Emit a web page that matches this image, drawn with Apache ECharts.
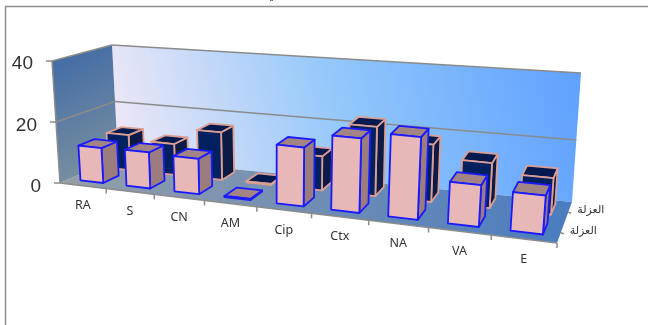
<!DOCTYPE html>
<html>
<head>
<meta charset="utf-8">
<style>html,body{margin:0;padding:0;background:#fff}#chart{width:648px;height:325px}</style>
<script src="https://cdn.jsdelivr.net/npm/echarts@6/dist/echarts.min.js"></script>
</head>
<body>
<div id="chart"></div>
<script>
// Isolate counts per antibiotic, two rows of 3D columns
const categories = ['RA', 'S', 'CN', 'AM', 'Cip', 'Ctx', 'NA', 'VA', 'E'];
const frontValues = [11.5, 11.8, 11.5, 0.4, 18.7, 23.3, 25.5, 13, 12];
const backValues = [12, 10.5, 16, 0.4, 11.3, 22.5, 18.5, 14.5, 11.7];
const rowNames = ['العزلة', 'العزلة'];
const valueTicks = [0, 20, 40];

// Corners of the 3D box on screen: [horizontal, depth, height]
const box = {
  p000: [60, 183], p100: [557, 243], p010: [118, 158], p110: [572, 202],
  p001: [52, 61], p101: [568, 104], p011: [112, 45], p111: [581, 73]
};
const perspective = 1.22;
const grid = { left: 52, top: 61, width: 500, height: 122 };

function lerp(a, b, t) { return [a[0] + (b[0] - a[0]) * t, a[1] + (b[1] - a[1]) * t]; }
function project(u, v, w) {
  const t = u / (u + perspective * (1 - u));
  const h = w * (1 - 0.08 * t * (1 - w));
  const front = lerp(lerp(box.p000, box.p100, t), lerp(box.p001, box.p101, t), h);
  const back = lerp(lerp(box.p010, box.p110, t), lerp(box.p011, box.p111, t), h);
  return lerp(front, back, v);
}
// Turn a data value into box coordinates through the cartesian axes
function boxPos(api, index, value, slotOffset) {
  const p = api.coord([index, value]);
  const slot = api.size([1, 0])[0];
  return [(p[0] + slotOffset * slot - grid.left) / grid.width, (grid.top + grid.height - p[1]) / grid.height];
}

function columnRenderer(vStart, vEnd, colors) {
  const half = 0.25;
  return function (params, api) {
    const i = api.value(0), val = api.value(1);
    const left = boxPos(api, i, val, -half), right = boxPos(api, i, val, half);
    const u0 = left[0], u1 = right[0], w = left[1];
    const base = { stroke: colors.edge, lineWidth: 1.8, lineJoin: 'round' };
    const face = (pts, fill) => ({ type: 'polygon', shape: { points: pts }, style: Object.assign({ fill }, base) });
    return {
      type: 'group',
      children: [
        face([project(u1, vStart, 0), project(u1, vEnd, 0), project(u1, vEnd, w), project(u1, vStart, w)], colors.side),
        face([project(u0, vStart, w), project(u1, vStart, w), project(u1, vEnd, w), project(u0, vEnd, w)], colors.top),
        face([project(u0, vStart, 0), project(u1, vStart, 0), project(u1, vStart, w), project(u0, vStart, w)], colors.front)
      ]
    };
  };
}

// Walls, floor, gridlines and the skewed axis furniture
function renderShell(params, api) {
  const gridLine = (a, b) => ({ type: 'line', shape: { x1: a[0], y1: a[1], x2: b[0], y2: b[1] }, style: { stroke: '#8b8b8b', lineWidth: 1.5 } });
  const children = [
    {
      type: 'polygon', shape: { points: [project(0, 1, 0), project(1, 1, 0), project(1, 1, 1), project(0, 1, 1)] },
      style: { fill: new echarts.graphic.LinearGradient(0, 1, 1, 0.25, [
        { offset: 0, color: '#f6eaf6' }, { offset: 0.5, color: '#94c8fb' }, { offset: 1, color: '#5fa1ff' }]) }
    },
    {
      type: 'polygon', shape: { points: [project(0, 0, 0), project(0, 1, 0), project(0, 1, 1), project(0, 0, 1)] },
      style: { fill: new echarts.graphic.LinearGradient(0, 0, 1, 1, [
        { offset: 0, color: '#3d69a6' }, { offset: 1, color: '#82949f' }]) }
    },
    {
      type: 'polygon', shape: { points: [project(0, 0, 0), project(1, 0, 0), project(1, 1, 0), project(0, 1, 0)] },
      style: { fill: new echarts.graphic.LinearGradient(0, 0, 1, 0.4, [
        { offset: 0, color: '#959fa8' }, { offset: 1, color: '#4a7cc0' }]) }
    }
  ];
  valueTicks.filter(t => t > 0).forEach(t => {
    const w = t / 40;
    children.push(gridLine(project(0, 0, w), project(0, 1, w)));
    children.push(gridLine(project(0, 1, w), project(1, 1, w)));
  });
  valueTicks.forEach(t => {
    const a = project(0, 0, t / 40);
    children.push(gridLine([a[0] - 6, a[1]], a));
  });
  children.push(gridLine(project(0, 0, 0), project(0, 0, 1)));
  children.push(gridLine(project(0, 0, 0), project(1, 0, 0)));
  categories.forEach((c, i) => {
    const a = project((i + 1) / categories.length, 0, 0);
    children.push(gridLine(a, [a[0], a[1] + 5]));
    const m = project((i + 0.5) / categories.length, 0, 0);
    children.push({
      type: 'text',
      style: { text: c, x: m[0], y: m[1] + 20, align: 'center', verticalAlign: 'middle',
        font: '12.5px "Noto Sans", sans-serif', fill: '#333' }
    });
  });
  rowNames.forEach((name, r) => {
    const a = project(1, 0.25 + r * 0.5, 0);
    children.push(gridLine(a, [a[0] + 3, a[1] + 1]));
    children.push({
      type: 'text',
      style: { text: name, x: a[0] + 9, y: a[1] - 2, align: 'left', verticalAlign: 'middle',
        font: '11px "DejaVu Sans", sans-serif', fill: '#333' }
    });
  });
  return { type: 'group', children };
}

const rowRows = arr => arr.map((v, i) => [i, v]);

const chart = echarts.init(document.getElementById('chart'));
chart.setOption({
  animation: false,
  backgroundColor: '#fff',
  grid: { left: grid.left, top: grid.top, width: grid.width, height: grid.height },
  xAxis: { type: 'category', data: categories, show: false },
  yAxis: {
    type: 'value', min: 0, max: 40, interval: 20,
    axisLine: { show: false }, axisTick: { show: false }, splitLine: { show: false },
    axisLabel: {
      margin: 11,
      formatter: v => '{t' + v + '|' + v + '}',
      rich: {
        t0: { padding: [7, 0, 0, 0], fontSize: 19, color: '#333', fontFamily: 'Liberation Sans' },
        t20: { padding: [7, 4, 0, 0], fontSize: 19, color: '#333', fontFamily: 'Liberation Sans' },
        t40: { padding: [5, 8, 0, 0], fontSize: 19, color: '#333', fontFamily: 'Liberation Sans' }
      }
    }
  },
  graphic: [
    { type: 'polyline', silent: true, shape: { points: [[5.5, 325], [5.5, 6.5], [648, 6.5]] }, style: { fill: null, stroke: '#8f8f8f', lineWidth: 1.5 } },
    { type: 'text', silent: true, style: { text: 'ي', x: 272, y: -5, align: 'center', verticalAlign: 'middle', font: 'bold 12px "DejaVu Sans", sans-serif', fill: '#111' } }
  ],
  series: [
    { type: 'custom', name: 'shell', silent: true, clip: false, data: [[0, 0]], renderItem: renderShell, z: 1 },
    {
      type: 'custom', name: 'back', silent: true, clip: false, data: rowRows(backValues), z: 2,
      renderItem: columnRenderer(0.65, 0.91, { front: '#002060', side: '#0b1b45', top: '#001a50', edge: '#dc9e94' })
    },
    {
      type: 'custom', name: 'front', silent: true, clip: false, data: rowRows(frontValues), z: 3,
      renderItem: columnRenderer(0.16, 0.44, { front: '#e8b8b8', side: '#9c7d7d', top: '#a38484', edge: '#1a1aff' })
    }
  ]
});
</script>
</body>
</html>
